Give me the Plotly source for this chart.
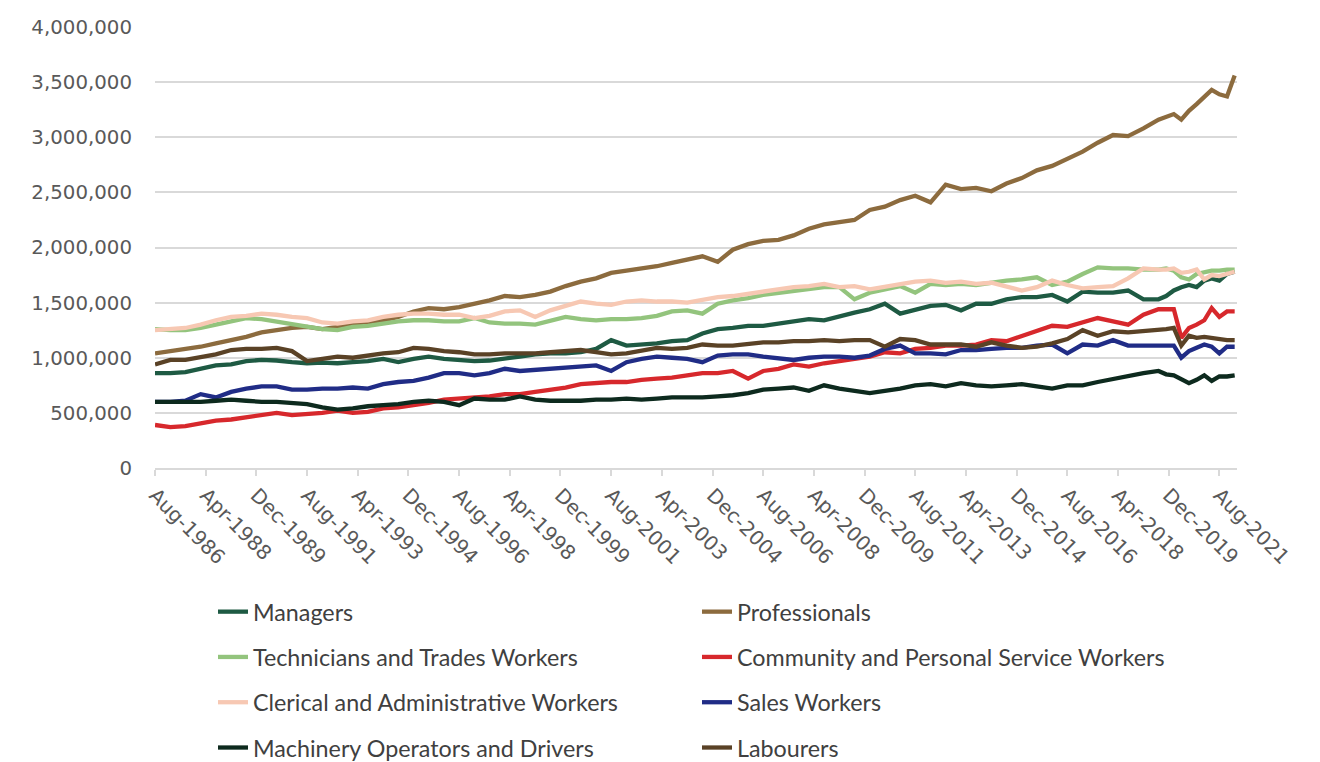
import plotly.graph_objects as go

# ---- x categories: semiannual (Aug-1986 .. Aug-2019) then quarterly to Feb-2022
dates = ["1986-08-01"]
for yr in range(1987, 2020):
    dates += [f"{yr}-02-01", f"{yr}-08-01"]
dates += ["2019-11-01", "2020-02-01", "2020-05-01", "2020-08-01", "2020-11-01",
          "2021-02-01", "2021-05-01", "2021-08-01", "2021-11-01", "2022-02-01"]

# ---- series values (thousands of persons)
managers = [860,
    860, 870, 900, 930, 940, 970, 980, 975, 960, 950, 955, 950, 960, 970, 990, 960,
    990, 1010, 990, 980, 970, 975, 990, 1010, 1030, 1040, 1040, 1050, 1080, 1160,
    1110, 1120, 1130, 1150, 1160, 1220, 1260, 1270, 1290, 1290, 1310, 1330, 1350, 1340,
    1380, 1410, 1440, 1490, 1400, 1430, 1470, 1480, 1430, 1490, 1490, 1530, 1550, 1550,
    1570, 1510, 1600, 1590, 1590, 1610, 1530, 1530,
    1560, 1610, 1640, 1660, 1640, 1700, 1720, 1700, 1760, 1780]
professionals = [1040,
    1060, 1080, 1100, 1130, 1160, 1190, 1230, 1250, 1270, 1280, 1260, 1280, 1300, 1320,
    1340, 1370, 1420, 1450, 1440, 1460, 1490, 1520, 1560, 1550, 1570, 1600, 1650, 1690,
    1720, 1770, 1790, 1810, 1830, 1860, 1890, 1920, 1870, 1980, 2030, 2060, 2070, 2110,
    2170, 2210, 2230, 2250, 2340, 2370, 2430, 2470, 2410, 2570, 2530, 2540, 2510, 2580,
    2630, 2700, 2740, 2800, 2870, 2950, 3020, 3010, 3080, 3160,
    3190, 3210, 3160, 3240, 3300, 3360, 3430, 3390, 3370, 3560]
technicians = [1260,
    1250, 1250, 1270, 1300, 1330, 1360, 1350, 1330, 1310, 1290, 1260, 1250, 1280, 1290,
    1310, 1330, 1340, 1340, 1330, 1330, 1360, 1320, 1310, 1310, 1300, 1330, 1370, 1350,
    1340, 1350, 1350, 1360, 1380, 1420, 1430, 1400, 1490, 1520, 1540, 1570, 1590, 1600,
    1620, 1640, 1640, 1530, 1590, 1620, 1650, 1590, 1670, 1660, 1670, 1660, 1680, 1700,
    1710, 1730, 1660, 1690, 1760, 1820, 1810, 1810, 1800, 1800,
    1810, 1790, 1730, 1710, 1760, 1780, 1790, 1790, 1800, 1800]
community = [390,
    370, 380, 410, 430, 440, 460, 480, 500, 480, 490, 500, 520, 500, 510, 540, 550,
    570, 590, 620, 630, 640, 650, 670, 670, 690, 710, 730, 760, 770, 780, 780, 800,
    810, 820, 840, 860, 860, 880, 810, 880, 900, 940, 920, 950, 970, 990, 1010, 1050,
    1040, 1080, 1090, 1110, 1110, 1120, 1160, 1150, 1200, 1240, 1290, 1280, 1320, 1360,
    1330, 1300, 1390, 1440,
    1440, 1440, 1180, 1270, 1300, 1340, 1450, 1370, 1420, 1420]
clerical = [1250,
    1260, 1270, 1300, 1340, 1370, 1380, 1400, 1390, 1370, 1360, 1320, 1310, 1330, 1340,
    1370, 1390, 1400, 1400, 1390, 1390, 1360, 1380, 1420, 1430, 1370, 1430, 1470, 1510,
    1490, 1480, 1510, 1520, 1510, 1510, 1500, 1520, 1550, 1560, 1580, 1600, 1620, 1640,
    1650, 1670, 1640, 1650, 1620, 1640, 1670, 1690, 1700, 1680, 1690, 1670, 1680, 1650,
    1610, 1640, 1700, 1660, 1630, 1640, 1650, 1720, 1810, 1800,
    1800, 1810, 1770, 1780, 1800, 1710, 1750, 1740, 1760, 1780]
sales = [600,
    600, 610, 670, 640, 690, 720, 740, 740, 710, 710, 720, 720, 730, 720, 760, 780,
    790, 820, 860, 860, 840, 860, 900, 880, 890, 900, 910, 920, 930, 880, 960, 990,
    1010, 1000, 990, 960, 1020, 1030, 1030, 1010, 990, 980, 1000, 1010, 1010, 1000,
    1020, 1080, 1110, 1040, 1040, 1030, 1070, 1070, 1080, 1090, 1090, 1110, 1120, 1040,
    1120, 1110, 1160, 1110, 1110, 1110,
    1110, 1110, 1000, 1060, 1090, 1120, 1100, 1040, 1100, 1100]
machinery = [600,
    600, 600, 600, 610, 620, 610, 600, 600, 590, 580, 550, 530, 540, 560, 570, 580,
    600, 610, 600, 570, 630, 620, 620, 650, 620, 610, 610, 610, 620, 620, 630, 620,
    630, 640, 640, 640, 650, 660, 680, 710, 720, 730, 700, 750, 720, 700, 680, 700,
    720, 750, 760, 740, 770, 750, 740, 750, 760, 740, 720, 750, 750, 780, 810, 830,
    860, 880,
    850, 840, 800, 770, 800, 840, 790, 830, 830, 840]
labourers = [940,
    980, 980, 1010, 1030, 1070, 1080, 1080, 1090, 1060, 970, 990, 1010, 1000, 1020,
    1040, 1050, 1090, 1080, 1060, 1050, 1030, 1030, 1040, 1040, 1040, 1050, 1060, 1070,
    1050, 1030, 1040, 1060, 1090, 1080, 1090, 1120, 1110, 1110, 1130, 1140, 1140, 1150,
    1150, 1160, 1150, 1160, 1160, 1100, 1170, 1160, 1120, 1120, 1120, 1100, 1140, 1110,
    1090, 1100, 1130, 1170, 1250, 1200, 1240, 1230, 1240, 1250,
    1260, 1270, 1110, 1200, 1180, 1190, 1180, 1170, 1160, 1160]

series_names = ["Managers", "Professionals", "Technicians and Trades Workers",
                "Community and Personal Service Workers", "Clerical and Administrative Workers",
                "Sales Workers", "Machinery Operators and Drivers", "Labourers"]
series_values = [managers, professionals, technicians, community, clerical, sales,
                 machinery, labourers]
series_colors = ["#1E5A43", "#8C6B3E", "#93C47D", "#D7282C", "#F7C8B3", "#202C86",
                 "#0D2A1E", "#5A4226"]
# left legend column gets the 1st, 3rd, 5th, 7th series
series_legend = ["legend", "legend2", "legend", "legend2", "legend", "legend2",
                 "legend", "legend2"]

tick_dates = ["1986-08-01", "1988-04-01", "1989-12-01", "1991-08-01", "1993-04-01",
              "1994-12-01", "1996-08-01", "1998-04-01", "1999-12-01", "2001-08-01",
              "2003-04-01", "2004-12-01", "2006-08-01", "2008-04-01", "2009-12-01",
              "2011-08-01", "2013-04-01", "2014-12-01", "2016-08-01", "2018-04-01",
              "2019-12-01", "2021-08-01"]
tick_labels = ["Aug-1986", "Apr-1988", "Dec-1989", "Aug-1991", "Apr-1993", "Dec-1994",
               "Aug-1996", "Apr-1998", "Dec-1999", "Aug-2001", "Apr-2003", "Dec-2004",
               "Aug-2006", "Apr-2008", "Dec-2009", "Aug-2011", "Apr-2013", "Dec-2014",
               "Aug-2016", "Apr-2018", "Dec-2019", "Aug-2021"]

fig = go.Figure()
for i, (name, vals, col, lg) in enumerate(zip(series_names, series_values,
                                               series_colors, series_legend)):
    fig.add_trace(go.Scatter(
        x=dates, y=[v * 1000 for v in vals], mode="lines", name=name,
        line=dict(color=col, width=4.3), legend=lg, legendgroup=name,
        hovertemplate="%{y:,}<extra>" + name + "</extra>"))

ytick_font = dict(family="DejaVu Sans", size=19.8, color="#595959")
xtick_font = dict(family="DejaVu Sans", size=20, color="#595959")
legend_font = dict(family="Lato", size=23.3, color="#404040")

# the page body adds an 8px offset, so positions below are shifted by -8px
fig.update_layout(
    width=1320, height=762,
    paper_bgcolor="white", plot_bgcolor="white",
    margin=dict(l=147, r=91, t=19, b=302, autoexpand=False),
    showlegend=True,
    legend=dict(x=205 / 1320, y=1 - 582 / 762, xref="container", yref="container",
                xanchor="left", yanchor="top",
                orientation="v", font=legend_font, tracegroupgap=12,
                bgcolor="rgba(0,0,0,0)"),
    legend2=dict(x=689 / 1320, y=1 - 582 / 762, xref="container", yref="container",
                 xanchor="left", yanchor="top",
                 orientation="v", font=legend_font, tracegroupgap=12,
                 bgcolor="rgba(0,0,0,0)"),
    xaxis=dict(type="date", range=["1986-08-01", "2022-03-01"],
               tickmode="array", tickvals=tick_dates, ticktext=tick_labels,
               tickangle=45, tickfont=xtick_font, ticks="outside", ticklen=6,
               tickcolor="#D9D9D9", tickwidth=1.5, showline=True,
               linecolor="#D9D9D9", linewidth=1.5, showgrid=False, zeroline=False,
               ticklabelstandoff=0),
    yaxis=dict(range=[0, 4000000], dtick=500000, tick0=0, tickformat=",",
               tickfont=ytick_font, showgrid=True, gridcolor="#D9D9D9",
               gridwidth=1.5, zeroline=False, showline=False,
               ticks="outside", ticklen=18, tickcolor="rgba(0,0,0,0)"),
)

fig.write_html("out.html")
